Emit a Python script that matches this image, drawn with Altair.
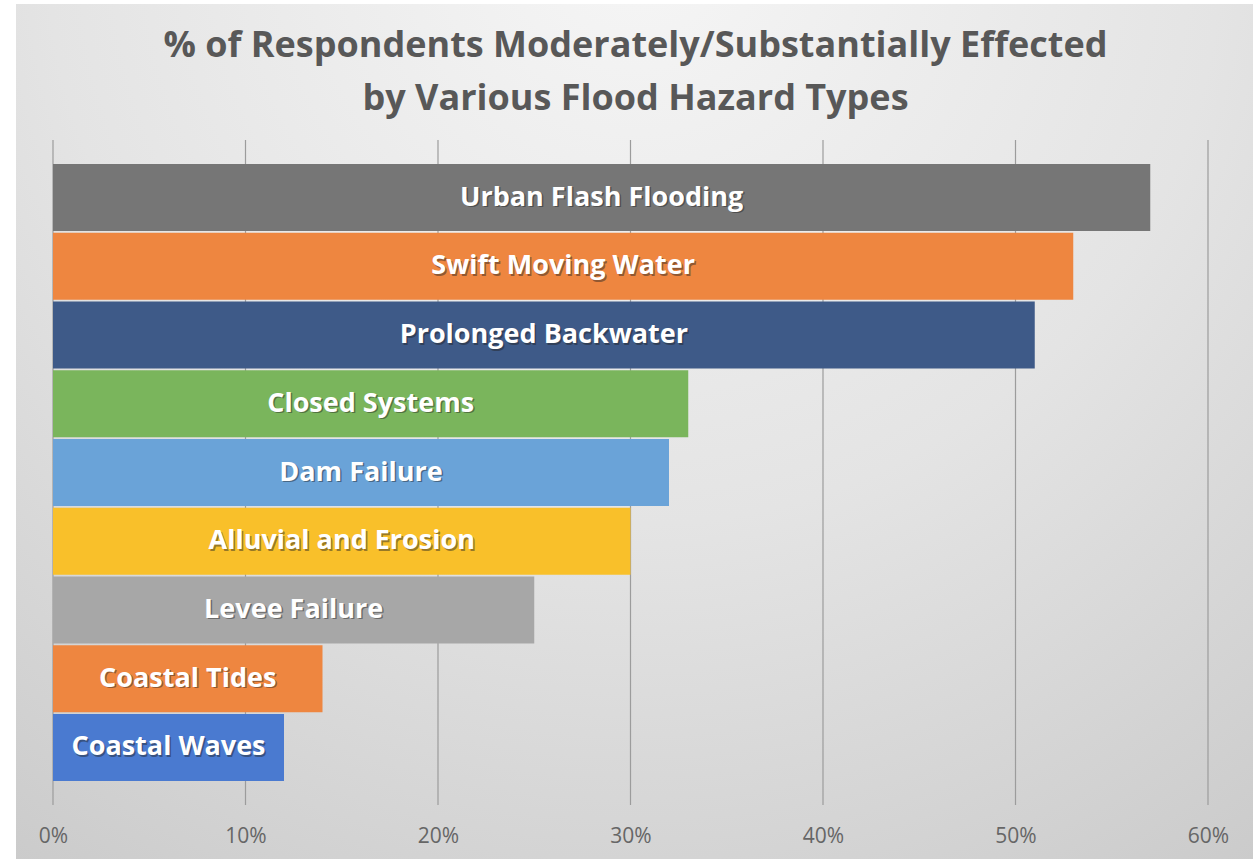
import altair as alt
import pandas as pd

# Share of respondents moderately/substantially affected, by flood hazard type
hazards = [
    "Urban Flash Flooding",
    "Swift Moving Water",
    "Prolonged Backwater",
    "Closed Systems",
    "Dam Failure",
    "Alluvial and Erosion",
    "Levee Failure",
    "Coastal Tides",
    "Coastal Waves",
]
shares = [0.57, 0.53, 0.51, 0.33, 0.32, 0.30, 0.25, 0.14, 0.12]
palette = [
    "#767676", "#EE8640", "#3E5A88", "#7AB55C", "#6AA3D8",
    "#F9C02A", "#A7A7A7", "#EE8640", "#4A7AD0",
]
tick_values = [0.0, 0.1, 0.2, 0.3, 0.4, 0.5, 0.6]
title_lines = [
    "% of Respondents Moderately/Substantially Effected",
    "by Various Flood Hazard Types",
]

df = pd.DataFrame({"hazard": hazards, "share": shares})
grid_df = pd.DataFrame({"share": tick_values})
bg_df = pd.DataFrame({"k": [0]})

W, H = 1155, 665
LEFT, TOP = 53, 140

x_scale = alt.Scale(domain=[0, 0.6], nice=False, zero=True)
y_scale = alt.Scale(paddingInner=0.025, paddingOuter=0.35)
x_axis = alt.Axis(
    values=tick_values, format=".0%", grid=False, domain=False,
    ticks=False, labelFontSize=21, labelColor="#666666",
    labelFont="Open Sans", labelPadding=20, labelFlush=False,
    zindex=1, title=None,
)

# soft radial backdrop behind everything
backdrop = alt.Chart(bg_df).mark_rect(
    fill={
        "gradient": "radial",
        "x1": 0.5, "y1": 0.1, "r1": 0.0,
        "x2": 0.5, "y2": 0.1, "r2": 0.95,
        "stops": [
            {"offset": 0.0, "color": "#f6f6f6"},
            {"offset": 0.5, "color": "#e4e4e4"},
            {"offset": 1.0, "color": "#c8c8c8"},
        ],
    },
).encode(
    x=alt.value(16 - LEFT), x2=alt.value(1253 - LEFT),
    y=alt.value(4 - TOP), y2=alt.value(859 - TOP),
)

# two-line heading drawn above the plot area
heading = [
    alt.Chart(bg_df).mark_text(
        text=line, font="Open Sans", fontSize=36, fontWeight="bold",
        color="#585858", align="center", baseline="alphabetic",
    ).encode(x=alt.value(635.5 - LEFT), y=alt.value(yy - TOP))
    for line, yy in zip(title_lines, [57, 110])
]

grid = alt.Chart(grid_df).mark_rule(color="#9c9c9c", strokeWidth=1.2).encode(
    x=alt.X("share:Q", scale=x_scale, axis=x_axis),
)

bars = alt.Chart(df).mark_bar().encode(
    x=alt.X("share:Q", scale=x_scale, axis=x_axis),
    y=alt.Y("hazard:N", sort=hazards, scale=y_scale, axis=None),
    color=alt.Color(
        "hazard:N", sort=hazards,
        scale=alt.Scale(domain=hazards, range=palette), legend=None,
    ),
)

text_base = alt.Chart(df).transform_calculate(mid="datum.share / 2")

label_shadow = text_base.mark_text(
    font="Open Sans", fontSize=27, fontWeight="bold", color="#222222",
    opacity=0.45, dx=1.5, dy=1.5,
).encode(
    x=alt.X("mid:Q", scale=x_scale, axis=x_axis),
    y=alt.Y("hazard:N", sort=hazards, scale=y_scale, axis=None),
    text="hazard:N",
)

labels = text_base.mark_text(
    font="Open Sans", fontSize=27, fontWeight="bold", color="#ffffff",
).encode(
    x=alt.X("mid:Q", scale=x_scale, axis=x_axis),
    y=alt.Y("hazard:N", sort=hazards, scale=y_scale, axis=None),
    text="hazard:N",
)

chart = alt.layer(backdrop, *heading, grid, bars, label_shadow, labels).properties(
    width=W,
    height=H,
    autosize=alt.AutoSizeParams(type="none"),
    padding={"left": LEFT, "top": TOP, "right": 1253 - LEFT - W, "bottom": 859 - TOP - H},
    background="#ffffff",
).configure_view(stroke=None)

chart.save("out.html", embed_options={"renderer": "svg", "actions": False})
